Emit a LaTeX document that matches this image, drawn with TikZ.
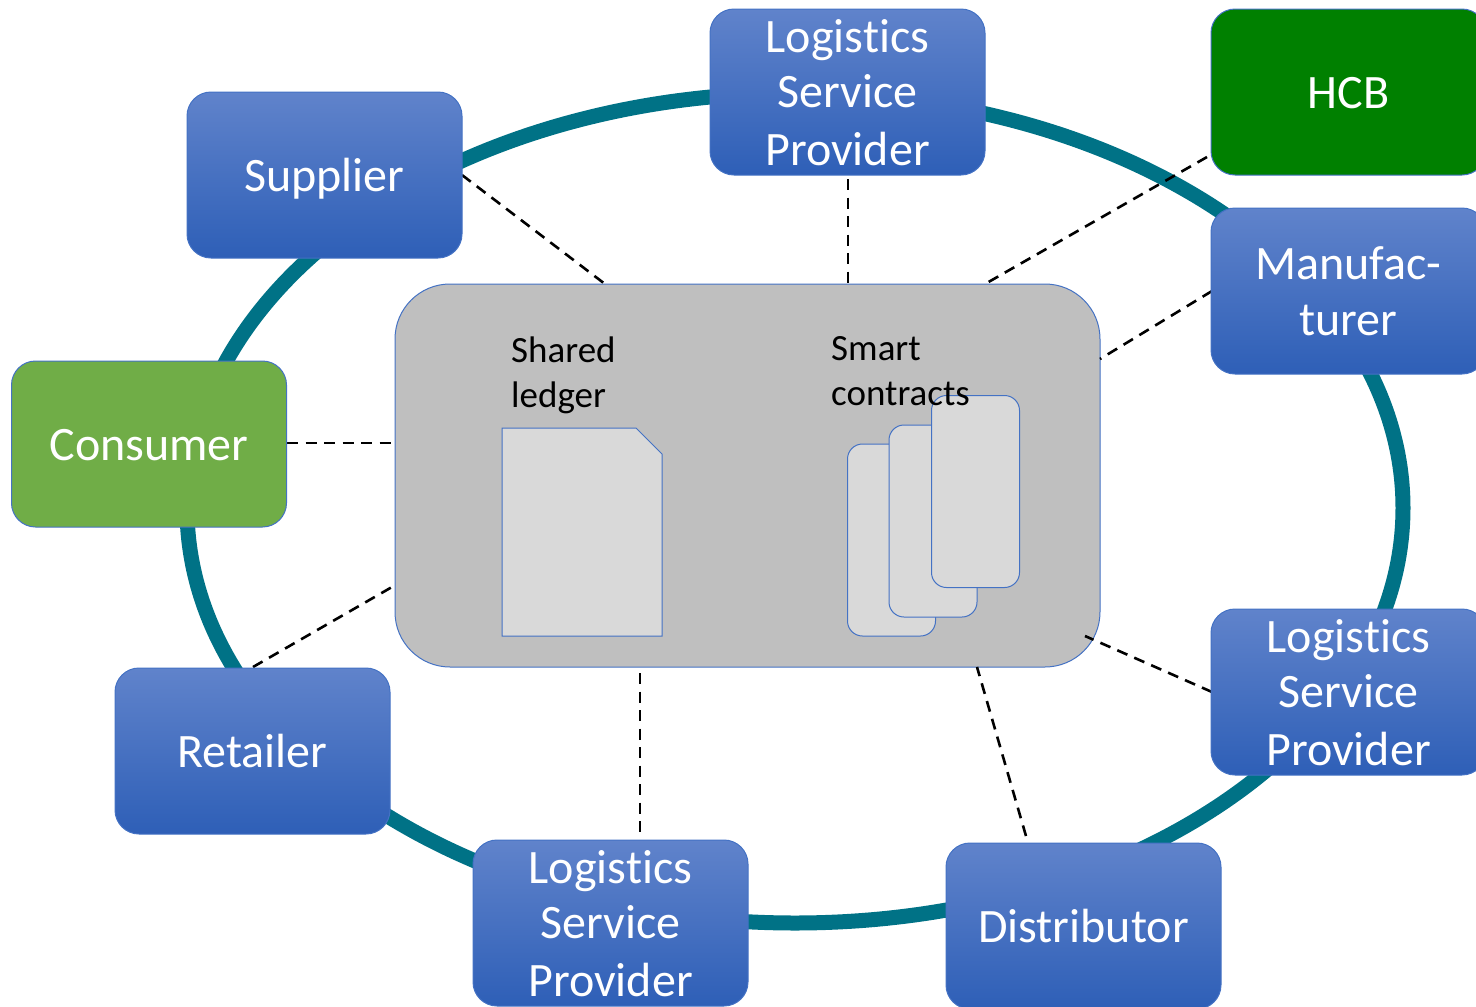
\documentclass[tikz,border=0pt]{standalone}
\usepackage{fontspec}
\usetikzlibrary{shapes.geometric}
\setmainfont{Carlito}[Ligatures=NoCommon]
\definecolor{ringc}{HTML}{007286}
\definecolor{edgec}{HTML}{4472C4}
\definecolor{topc}{HTML}{6083CB}
\definecolor{botc}{HTML}{2E5FB7}
\definecolor{hubc}{HTML}{BFBFBF}
\definecolor{paperc}{HTML}{D9D9D9}
\definecolor{consc}{HTML}{70AD47}
\definecolor{hcbc}{HTML}{008000}
\newcommand{\lowered}[1]{\rule[-10pt]{0pt}{53.5pt}#1}
\newcommand{\lsplabel}{\rule{0pt}{34pt}Logistics\\[-1.5pt]Service\\[2pt]Provider}
\tikzset{
  x=1pt,y=-1pt,
  actor/.style={draw=edgec,line width=1pt,rounded corners=24pt,minimum width=275pt,minimum height=166pt,inner sep=0pt,align=center,text=white,font=\fontsize{48}{56.5}\selectfont},
  bluebox/.style={actor,top color=topc,bottom color=botc,shading angle=0},
  consbox/.style={actor,fill=consc},
  hcbbox/.style={actor,fill=hcbc},
  hubbox/.style={draw=edgec,line width=1pt,fill=hubc,rounded corners=55pt,minimum width=705pt,minimum height=383pt,inner sep=0pt},
  card/.style={draw=edgec,line width=1pt,fill=paperc,rounded corners=15pt,minimum width=88pt,minimum height=192pt,inner sep=0pt},
  caption/.style={anchor=west,align=left,inner sep=0pt,text=black,font=\fontsize{37}{45}\selectfont},
  link/.style={draw=black,line width=2.6pt,dash pattern=on 11pt off 7.5pt},
  ring/.style={draw=ringc,line width=15pt,ellipse}
}
\begin{document}
\begin{tikzpicture}
\useasboundingbox (0,0) rectangle (1476,1007);
\clip (0,0) rectangle (1476,1007);
\node[ring,minimum width=1216pt,minimum height=830pt,inner sep=0pt] (loop) at (795,508) {};

\node[hubbox] (hub) at (747.5,475.5) {};

\coordinate (h1) at (605,284);
\coordinate (h2) at (848,284);
\coordinate (h3) at (985,284);
\coordinate (h4) at (1100,359);
\coordinate (h5) at (392,443);
\coordinate (h6) at (392,587);
\coordinate (h7) at (640,673);
\coordinate (h8) at (977,667);
\coordinate (h9) at (1085,636);
\coordinate (e1) at (462,175);
\coordinate (e2) at (848,179);
\coordinate (e3) at (1207,157);
\coordinate (e4) at (1212,291);
\coordinate (e5) at (287,443);
\coordinate (e6) at (253,667);
\coordinate (e7) at (640,836);
\coordinate (e8) at (1026,836);
\coordinate (e9) at (1212,692);

\draw[link] (e1) -- (h1);
\draw[link] (e2) -- (h2);
\draw[link] (e3) -- (h3);
\draw[link] (e4) -- (h4);
\draw[link] (e5) -- (h5);
\draw[link] (e6) -- (h6);
\draw[link] (h7) -- (e7);
\draw[link] (e8) -- (h8);
\draw[link] (e9) -- (h9);

\node[bluebox] (supplier) at (324.5,175) {\lowered{Supplier}};
\node[bluebox] (lsptop) at (847.5,92) {\lsplabel};
\node[hcbbox] (hcb) at (1348.5,92) {\lowered{HCB}};
\node[bluebox] (manu) at (1348.5,291) {Manufac-\\turer};
\node[bluebox] (lspright) at (1348.5,692) {\lsplabel};
\node[bluebox] (distributor) at (1083.5,926) {\lowered{Distributor}};
\node[bluebox] (lspbottom) at (610.5,923) {\lsplabel};
\node[bluebox] (retailer) at (252.5,751) {\lowered{Retailer}};
\node[consbox] (consumer) at (149,444) {\lowered{Consumer}};

\draw[draw=edgec,line width=1pt,fill=paperc] (502,428) -- (636,428) -- (662,454) -- (662,636) -- (502,636) -- cycle;
\node[card] (c1) at (891.5,540) {};
\node[card] (c2) at (933,521) {};
\node[card] (c3) at (975.5,491.5) {};
\node[caption] (ledger) at (511,375) {Shared\\ledger};
\node[caption] (smart) at (831,371) {Smart\\contracts};
\end{tikzpicture}
\end{document}
